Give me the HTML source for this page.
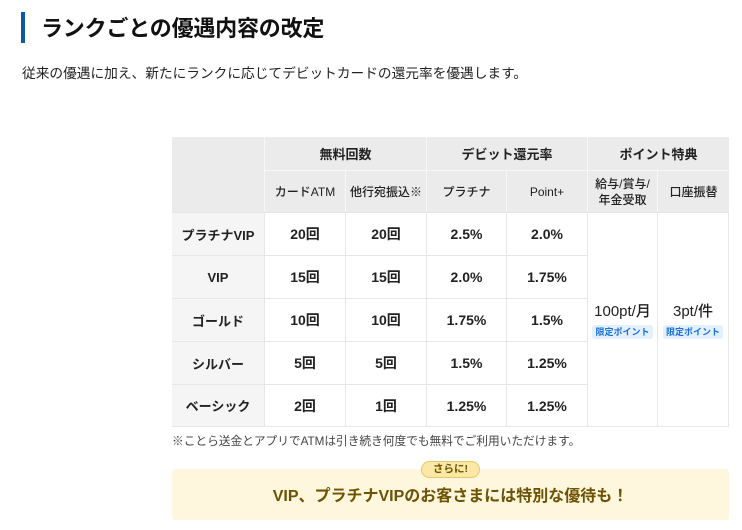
<!DOCTYPE html>
<html><head><meta charset="utf-8"><style>
*{margin:0;padding:0;box-sizing:border-box}
body{width:742px;height:530px;background:#fff;position:relative;overflow:hidden;font-family:"Liberation Sans","Noto Sans CJK JP",sans-serif;color:#222}
.a{position:absolute}
.bar{left:21px;top:12px;width:4px;height:31px;background:#0a5aa8}
.title{left:41px;top:10px;font-size:22px;font-weight:700;line-height:34px;color:#111;font-family:"Noto Sans CJK JP",sans-serif;letter-spacing:-0.2px}
.sub{left:22px;top:62px;font-size:13.7px;line-height:20px;color:#222;font-family:"Noto Sans CJK JP",sans-serif}
.c{position:absolute;display:flex;align-items:center;justify-content:center;text-align:center;flex-direction:column}
.h{background:#ebebeb;font-size:13px;font-weight:700;color:#222}
.h2{background:#ebebeb;font-size:12px;font-weight:500;color:#222;line-height:16px}
.f{background:#f5f5f5;font-size:13px;font-weight:700;color:#222}
.v{background:#fff;font-size:14px;font-weight:700;color:#222}
.badge{display:inline-block;margin-top:4px;background:#e3f0fd;color:#1a6fd8;font-size:9px;font-weight:700;padding:0 3px;height:14px;line-height:14px;border-radius:3px}
.note{left:172px;top:433px;font-size:11.7px;line-height:18px;color:#444}
.ybox{left:172px;top:469px;width:557px;height:51px;background:#fff6de;border-radius:3px}
.ytxt{left:172px;top:485px;width:557px;text-align:center;font-size:16px;font-weight:700;color:#6b5300;line-height:24px}
.tag{left:421px;top:461px;width:59px;height:17px;background:#fbe8a6;border:1px solid #e6c96a;border-radius:9px;font-size:10.5px;font-weight:700;color:#6b5300;text-align:center;line-height:15px}
</style></head><body>
<div class="a bar"></div>
<div class="a title">ランクごとの優遇内容の改定</div>
<div class="a sub">従来の優遇に加え、新たにランクに応じてデビットカードの還元率を優遇します。</div>

<div class="a" style="left:172px;top:137px;width:557px;height:290px;background:#e6e6e6"></div>

<div class="c h" style="left:172px;top:137px;width:92px;height:75px"></div>
<div class="c h" style="left:265px;top:137px;width:161px;height:33px">無料回数</div>
<div class="c h" style="left:427px;top:137px;width:160px;height:33px">デビット還元率</div>
<div class="c h" style="left:588px;top:137px;width:141px;height:33px">ポイント特典</div>
<div class="c h2" style="left:265px;top:171px;width:80px;height:41px">カードATM</div>
<div class="c h2" style="left:346px;top:171px;width:80px;height:41px">他行宛振込※</div>
<div class="c h2" style="left:427px;top:171px;width:79px;height:41px">プラチナ</div>
<div class="c h2" style="left:507px;top:171px;width:80px;height:41px">Point+</div>
<div class="c h2" style="left:588px;top:171px;width:69px;height:41px">給与/賞与/<br>年金受取</div>
<div class="c h2" style="left:658px;top:171px;width:71px;height:41px">口座振替</div>
<div class="a" style="left:264px;top:137px;width:1px;height:75px;background:#f7f7f7"></div>
<div class="a" style="left:426px;top:137px;width:1px;height:75px;background:#f7f7f7"></div>
<div class="a" style="left:587px;top:137px;width:1px;height:75px;background:#f7f7f7"></div>
<div class="a" style="left:265px;top:170px;width:464px;height:1px;background:#f7f7f7"></div>
<div class="a" style="left:345px;top:171px;width:1px;height:41px;background:#f7f7f7"></div>
<div class="a" style="left:506px;top:171px;width:1px;height:41px;background:#f7f7f7"></div>
<div class="a" style="left:657px;top:171px;width:1px;height:41px;background:#f7f7f7"></div>

<div class="c f" style="left:172px;top:213px;width:92px;height:42px">プラチナVIP</div>
<div class="c v" style="left:265px;top:213px;width:80px;height:42px">20回</div>
<div class="c v" style="left:346px;top:213px;width:80px;height:42px">20回</div>
<div class="c v" style="left:427px;top:213px;width:79px;height:42px">2.5%</div>
<div class="c v" style="left:507px;top:213px;width:80px;height:42px">2.0%</div>

<div class="c f" style="left:172px;top:256px;width:92px;height:42px">VIP</div>
<div class="c v" style="left:265px;top:256px;width:80px;height:42px">15回</div>
<div class="c v" style="left:346px;top:256px;width:80px;height:42px">15回</div>
<div class="c v" style="left:427px;top:256px;width:79px;height:42px">2.0%</div>
<div class="c v" style="left:507px;top:256px;width:80px;height:42px">1.75%</div>

<div class="c f" style="left:172px;top:299px;width:92px;height:42px">ゴールド</div>
<div class="c v" style="left:265px;top:299px;width:80px;height:42px">10回</div>
<div class="c v" style="left:346px;top:299px;width:80px;height:42px">10回</div>
<div class="c v" style="left:427px;top:299px;width:79px;height:42px">1.75%</div>
<div class="c v" style="left:507px;top:299px;width:80px;height:42px">1.5%</div>

<div class="c f" style="left:172px;top:342px;width:92px;height:42px">シルバー</div>
<div class="c v" style="left:265px;top:342px;width:80px;height:42px">5回</div>
<div class="c v" style="left:346px;top:342px;width:80px;height:42px">5回</div>
<div class="c v" style="left:427px;top:342px;width:79px;height:42px">1.5%</div>
<div class="c v" style="left:507px;top:342px;width:80px;height:42px">1.25%</div>

<div class="c f" style="left:172px;top:385px;width:92px;height:41px">ベーシック</div>
<div class="c v" style="left:265px;top:385px;width:80px;height:41px">2回</div>
<div class="c v" style="left:346px;top:385px;width:80px;height:41px">1回</div>
<div class="c v" style="left:427px;top:385px;width:79px;height:41px">1.25%</div>
<div class="c v" style="left:507px;top:385px;width:80px;height:41px">1.25%</div>

<div class="c v" style="left:588px;top:213px;width:69px;height:213px;font-size:15px;font-weight:500">100pt/月<span class="badge">限定ポイント</span></div>
<div class="c v" style="left:658px;top:213px;width:70px;height:213px;font-size:15px;font-weight:500">3pt/件<span class="badge">限定ポイント</span></div>

<div class="a note">※ことら送金とアプリでATMは引き続き何度でも無料でご利用いただけます。</div>

<div class="a ybox"></div>
<div class="a tag">さらに!</div>
<div class="a ytxt">VIP、プラチナVIPのお客さまには特別な優待も！</div>
</body></html>
